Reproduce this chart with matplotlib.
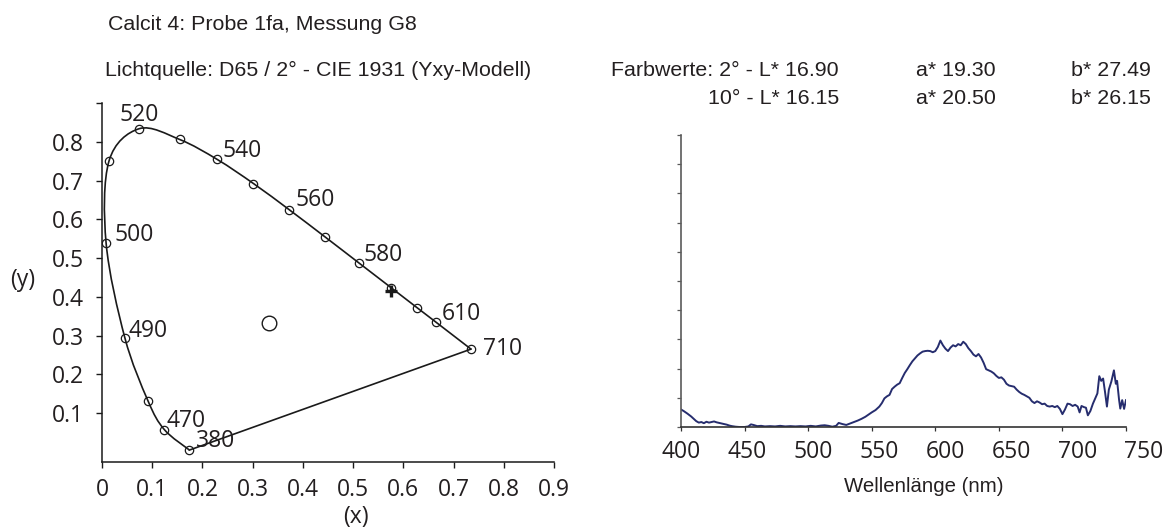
import matplotlib
matplotlib.use("Agg")
import matplotlib.pyplot as plt
from matplotlib.path import Path
from matplotlib.patches import PathPatch
from matplotlib.transforms import blended_transform_factory
import numpy as np

# --- chromaticity diagram data (CIE 1931, 2 degree observer) ---
locus_nm = [380, 470, 480, 490, 500, 510, 520, 530, 540, 550, 560, 570, 580, 590, 600, 610, 710]
locus_x = [0.1741, 0.1241, 0.0913, 0.0454, 0.0082, 0.0139, 0.0743, 0.1547, 0.2296,
           0.3016, 0.3731, 0.4441, 0.5125, 0.5752, 0.6270, 0.6658, 0.7347]
locus_y = [0.0050, 0.0578, 0.1327, 0.2950, 0.5384, 0.7502, 0.8338, 0.8059, 0.7543,
           0.6923, 0.6245, 0.5547, 0.4866, 0.4242, 0.3725, 0.3340, 0.2653]
labelled_nm = [380, 470, 490, 500, 520, 540, 560, 580, 610, 710]

white_point = (0.3333, 0.3333)
sample_point = (0.575, 0.414)

x_ticks = [0, 0.1, 0.2, 0.3, 0.4, 0.5, 0.6, 0.7, 0.8, 0.9]
x_tick_labels = ["0", "0.1", "0.2", "0.3", "0.4", "0.5", "0.6", "0.7", "0.8", "0.9"]
y_ticks = [0.1, 0.2, 0.3, 0.4, 0.5, 0.6, 0.7, 0.8, 0.9]
y_tick_labels = ["0.1", "0.2", "0.3", "0.4", "0.5", "0.6", "0.7", "0.8", ""]

# --- reflectance spectrum ---
wavelength = [400, 402, 405, 408, 410, 412, 414, 416, 418, 420, 422, 424, 426, 428, 430,
              432, 434, 436, 438, 440, 443, 446, 450, 453, 455, 457, 460, 463, 466, 470,
              474, 478, 482, 486, 490, 494, 498, 502, 506, 510, 513, 516, 519, 522, 524,
              527, 530, 533, 536, 539, 542, 545, 548, 550, 553, 556, 558, 560, 562, 564,
              566, 568, 570, 572, 574, 576, 578, 580, 582, 584, 586, 588, 590, 592, 594,
              596, 598, 600, 602, 604, 606, 608, 610, 612, 614, 616, 618, 620, 622, 624,
              626, 628, 630, 632, 634, 636, 638, 640, 642, 644, 646, 648, 650, 652, 654,
              656, 658, 660, 662, 664, 666, 668, 670, 672, 674, 676, 678, 680, 682, 684,
              686, 688, 690, 692, 694, 696, 698, 700, 702, 704, 706, 708, 710, 712, 713.5,
              715, 717, 718.5, 720, 722, 724, 726, 727.5, 729, 730.5, 732, 733.5, 735, 736.5,
              738.5, 740.5, 742, 743, 744.5, 745.5, 747, 748.5, 750]
reflectance = [0.60, 0.55, 0.46, 0.36, 0.28, 0.20, 0.15, 0.17, 0.13, 0.18, 0.15, 0.17, 0.19, 0.16, 0.14,
               0.12, 0.10, 0.08, 0.05, 0.03, 0.01, 0.00, 0.00, 0.02, 0.09, 0.07, 0.03, 0.04, 0.02, 0.03,
               0.02, 0.04, 0.02, 0.03, 0.02, 0.03, 0.02, 0.04, 0.02, 0.05, 0.06, 0.04, 0.01, 0.04, 0.14,
               0.10, 0.07, 0.12, 0.17, 0.22, 0.28, 0.35, 0.44, 0.50, 0.58, 0.70, 0.82, 0.98, 1.05, 1.10,
               1.30, 1.38, 1.45, 1.50, 1.68, 1.85, 1.98, 2.12, 2.25, 2.35, 2.45, 2.52, 2.58, 2.60, 2.61,
               2.60, 2.56, 2.60, 2.74, 2.96, 2.80, 2.68, 2.60, 2.72, 2.80, 2.76, 2.84, 2.80, 2.92, 2.84,
               2.70, 2.60, 2.48, 2.42, 2.50, 2.38, 2.20, 1.98, 1.94, 1.90, 1.84, 1.75, 1.68, 1.70, 1.62,
               1.48, 1.42, 1.40, 1.38, 1.28, 1.20, 1.14, 1.10, 1.05, 1.00, 0.88, 0.82, 0.88, 0.84, 0.78,
               0.80, 0.72, 0.70, 0.72, 0.68, 0.72, 0.62, 0.44, 0.60, 0.80, 0.78, 0.72, 0.76, 0.70, 0.50,
               0.72, 0.68, 0.66, 0.40, 0.55, 0.80, 1.00, 1.15, 1.74, 1.58, 1.66, 1.20, 0.70, 1.28,
               1.56, 1.94, 1.48, 1.58, 0.95, 0.63, 0.92, 0.62, 0.92]
wl_ticks = [400, 450, 500, 550, 600, 650, 700, 750]

TEXT = "#231f20"
LINE = "#1a1a1a"
NUM_FONT = ["Open Sans", "DejaVu Sans"]
HEAD_FONT = ["Liberation Sans", "DejaVu Sans"]
NUM_SIZE = 16.5
HEAD_SIZE = 15.4

W, H = 1169, 527
fig = plt.figure(figsize=(W / 100, H / 100), dpi=100)


def px_axes(left, top, right, bottom):
    return fig.add_axes([left / W, (H - bottom) / H, (right - left) / W, (bottom - top) / H])


def smooth_path(xs, ys):
    """Catmull-Rom spline through the points, expressed as cubic Bezier segments."""
    pts = np.column_stack([xs, ys])
    n = len(pts)
    verts = [pts[0]]
    codes = [Path.MOVETO]
    for i in range(n - 1):
        p0 = pts[max(i - 1, 0)]
        p1 = pts[i]
        p2 = pts[i + 1]
        p3 = pts[min(i + 2, n - 1)]
        c1 = p1 + (p2 - p0) / 6.0
        c2 = p2 - (p3 - p1) / 6.0
        verts += [c1, c2, p2]
        codes += [Path.CURVE4] * 3
    return Path(verts, codes)


# ---------------- chromaticity diagram ----------------
ax1 = px_axes(102, 103, 554, 462)
ax1.set_xlim(0, 0.9)
ax1.set_ylim(-0.0258, 0.9)

ax1.add_patch(PathPatch(smooth_path(locus_x, locus_y), facecolor="none",
                        edgecolor=LINE, lw=1.2))
ax1.plot([locus_x[-1], locus_x[0]], [locus_y[-1], locus_y[0]], color=LINE, lw=1.2)
ax1.plot(locus_x, locus_y, linestyle="none", marker="o", ms=6, mfc="none",
         mec=LINE, mew=0.9)
ax1.plot([white_point[0]], [white_point[1]], marker="o", ms=10.5, mfc="none",
         mec=LINE, mew=1.0)
ax1.plot([sample_point[0]], [sample_point[1]], marker="+", ms=8, mec=LINE, mew=2.4)

offsets = {380: (7, 9), 470: (2, 9), 490: (4, 7), 500: (8, 8), 520: (0, 14),
           540: (5, 8), 560: (6, 10), 580: (4, 8), 610: (5, 8), 710: (12, 0)}
for nm, x, y in zip(locus_nm, locus_x, locus_y):
    if nm not in labelled_nm:
        continue
    dx, dy = offsets[nm]
    ha = "center" if nm == 520 else "left"
    ax1.annotate(str(nm), (x, y), xytext=(dx * 0.72, dy * 0.72), textcoords="offset points",
                 ha=ha, va="center", fontsize=NUM_SIZE, family=NUM_FONT, color=TEXT)

for side in ("top", "right"):
    ax1.spines[side].set_visible(False)
for side in ("left", "bottom"):
    ax1.spines[side].set_color(LINE)
    ax1.spines[side].set_linewidth(1.1)
ax1.set_xticks(x_ticks)
ax1.set_xticklabels(x_tick_labels)
ax1.set_yticks(y_ticks)
ax1.set_yticklabels(y_tick_labels)
ax1.tick_params(axis="x", direction="out", length=4, width=1.0, pad=7.3,
                labelsize=NUM_SIZE, labelcolor=TEXT, color=LINE)
ax1.tick_params(axis="y", direction="out", length=4, width=1.0, pad=9.0,
                labelsize=NUM_SIZE, labelcolor=TEXT, color=LINE)
for lab in ax1.get_xticklabels() + ax1.get_yticklabels():
    lab.set_family(NUM_FONT)

fig.text(356 / W, 1 - 517 / H, "(x)", ha="center", va="center", fontsize=NUM_SIZE,
         family=NUM_FONT, color=TEXT)
fig.text(23 / W, 1 - 280 / H, "(y)", ha="center", va="center", fontsize=NUM_SIZE,
         family=NUM_FONT, color=TEXT)

# ---------------- spectrum ----------------
ax2 = px_axes(681, 135, 1126, 427)
ax2.set_xlim(400, 750)
ax2.set_ylim(0, 10)
ax2.plot(wavelength, reflectance, color="#262d6e", lw=1.4)
for side in ("top", "right"):
    ax2.spines[side].set_visible(False)
ax2.spines["left"].set_color("#5a5a5a")
ax2.spines["bottom"].set_color("#333333")
ax2.spines["left"].set_linewidth(1.2)
ax2.spines["bottom"].set_linewidth(1.2)
ax2.set_yticks(np.arange(0, 11, 1))
ax2.set_yticklabels([])
ax2.tick_params(axis="y", direction="out", length=3, width=0.9, color="#5a5a5a")
ax2.set_xticks(wl_ticks)
ax2.set_xticklabels([])
ax2.tick_params(axis="x", direction="out", length=3, width=0.9, color="#333333")
# wavelength labels are spread slightly wider than the tick marks
lab_tr = blended_transform_factory(ax2.transData, ax2.transAxes)
for v in wl_ticks:
    ax2.text(400 + (v - 400) * 1.039, -(458 - 427) / 292, str(v), transform=lab_tr,
             ha="center", va="baseline", fontsize=NUM_SIZE, family=NUM_FONT, color=TEXT,
             clip_on=False)
fig.text(924 / W, 1 - 486 / H, "Wellenlänge (nm)", ha="center", va="center",
         fontsize=14.7, family=HEAD_FONT, color=TEXT)

# ---------------- header texts ----------------
head = dict(fontsize=HEAD_SIZE, family=HEAD_FONT, color=TEXT, va="center")
fig.text(108 / W, 1 - 25 / H, "Calcit 4: Probe 1fa, Messung G8", ha="left", **head)
fig.text(105 / W, 1 - 70 / H, "Lichtquelle: D65 / 2° - CIE 1931 (Yxy-Modell)", ha="left", **head)
fig.text(839 / W, 1 - 70 / H, "Farbwerte: 2° - L* 16.90", ha="right", **head)
fig.text(839 / W, 1 - 99 / H, "10° - L* 16.15", ha="right", **head)
fig.text(916 / W, 1 - 70 / H, "a* 19.30", ha="left", **head)
fig.text(916 / W, 1 - 99 / H, "a* 20.50", ha="left", **head)
fig.text(1071 / W, 1 - 70 / H, "b* 27.49", ha="left", **head)
fig.text(1071 / W, 1 - 99 / H, "b* 26.15", ha="left", **head)

fig.savefig("out.png", dpi=100, facecolor="white")
